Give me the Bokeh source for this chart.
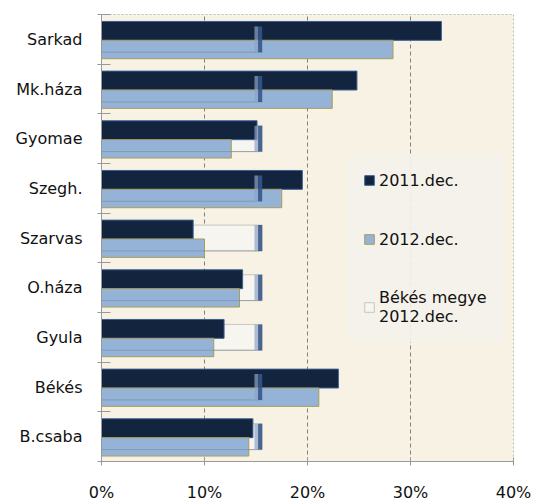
from bokeh.plotting import figure
from bokeh.models import (ColumnDataSource, FixedTicker, Legend, LegendItem,
                          PrintfTickFormatter, Range1d)
from bokeh.embed import file_html
from bokeh.resources import INLINE

# ---- data ----
categories = ["Sarkad", "Mk.háza", "Gyomae", "Szegh.", "Szarvas",
              "O.háza", "Gyula", "Békés", "B.csaba"]
v2011 = [33.0, 24.8, 15.1, 19.5, 8.9, 13.7, 11.9, 23.0, 14.7]
v2012 = [28.3, 22.4, 12.6, 17.5, 10.0, 13.4, 10.9, 21.1, 14.3]
bekes_megye = [15.6, 15.6, 15.6, 15.6, 15.6, 15.6, 15.6, 15.6, 15.6]
x_ticks = [0, 10, 20, 30, 40]
series_labels = ["2011.dec.", "2012.dec.", "Békés megye\n2012.dec."]

n = len(categories)
centers = [n - 0.5 - i for i in range(n)]

src = ColumnDataSource(dict(
    cat=categories,
    v2011=v2011,
    v2012=v2012,
    bm=bekes_megye,
    bm_cap=[b - 0.75 for b in bekes_megye],
    bm_mid=[b - 0.4 for b in bekes_megye],
    zero=[0] * n,
    d_top=[c + 0.36 for c in centers],
    d_bot=[c - 0.02 for c in centers],
    l_top=[c - 0.02 for c in centers],
    l_bot=[c - 0.39 for c in centers],
    b_top=[c + 0.26 for c in centers],
    b_bot=[c - 0.26 for c in centers],
))

FONT = "DejaVu Sans"

p = figure(width=534, height=504, output_backend="svg", toolbar_location=None,
           x_range=Range1d(0, 40), y_range=Range1d(0, n),
           min_border_left=101, min_border_right=21, min_border_top=14,
           min_border_bottom=42)

p.background_fill_color = "#f8f2e4"
p.border_fill_color = "white"
p.outline_line_color = "#bbbbbb"
p.outline_line_dash = "2 2"

# Békés megye bar (behind)
r_bm = p.quad(left="zero", right="bm", top="b_top", bottom="b_bot", source=src,
              fill_color="#f7f5ef", line_color="#c8c5bb", line_width=1)

# 2011 dark bars
r_d = p.quad(left="zero", right="v2011", top="d_top", bottom="d_bot", source=src,
             fill_color="#13243f", line_color="#3b6096", line_width=1)
# 2012 light bars
r_l = p.quad(left="zero", right="v2012", top="l_top", bottom="l_bot", source=src,
             fill_color="#95b3d7", line_color="#a99c5c", line_width=1)

# Békés megye bottom edge (seen through the light bars) and 3D cap on top
p.segment(x0="zero", x1="bm", y0="b_bot", y1="b_bot", source=src,
          line_color="#6f7f94", line_alpha=0.5, line_width=1)
p.quad(left="bm_cap", right="bm_mid", top="b_top", bottom="b_bot", source=src,
       fill_color="#8ea3c4", fill_alpha=0.7, line_alpha=0)
p.quad(left="bm_mid", right="bm", top="b_top", bottom="b_bot", source=src,
       fill_color="#34558a", fill_alpha=0.9, line_alpha=0)

# grid
p.ygrid.grid_line_color = None
p.xgrid.ticker = FixedTicker(ticks=x_ticks)
p.xgrid.grid_line_color = "#808080"
p.xgrid.grid_line_dash = "4 3"
p.xgrid.grid_line_width = 1

# x axis
xa = p.xaxis[0]
xa.ticker = FixedTicker(ticks=x_ticks)
xa.formatter = PrintfTickFormatter(format="%d%%")
xa.axis_line_color = "#999999"
xa.major_tick_line_color = "#999999"
xa.major_tick_in = 4
xa.major_tick_out = 4
xa.minor_tick_line_color = None
xa.major_label_standoff = 17
xa.major_label_text_font = FONT
xa.major_label_text_font_size = "16px"
xa.major_label_text_color = "#111111"

# y axis
ya = p.yaxis[0]
ya.ticker = FixedTicker(ticks=centers, minor_ticks=list(range(n + 1)))
ya.major_label_overrides = {c: name for c, name in zip(centers, categories)}
ya.axis_line_color = "#999999"
ya.major_tick_line_color = None
ya.major_tick_in = 0
ya.major_tick_out = 0
ya.minor_tick_line_color = "#999999"
ya.minor_tick_in = 9
ya.minor_tick_out = 4
ya.major_label_standoff = 15
ya.major_label_text_font = FONT
ya.major_label_text_font_size = "16px"
ya.major_label_text_color = "#111111"

legend = Legend(items=[
    LegendItem(label=series_labels[0], renderers=[r_d]),
    LegendItem(label=series_labels[1], renderers=[r_l]),
    LegendItem(label=series_labels[2], renderers=[r_bm]),
], location=(246, 119))
legend.background_fill_color = "#f4f2ec"
legend.background_fill_alpha = 0.92
legend.border_line_alpha = 0
legend.label_text_font = FONT
legend.label_text_font_size = "16px"
legend.label_text_color = "#111111"
legend.glyph_width = 12
legend.glyph_height = 12
legend.label_standoff = 4
legend.label_height = 20
legend.spacing = 39
legend.padding = 16
legend.margin = 0
p.add_layout(legend, "center")

open("out.html", "w").write(file_html(p, INLINE))
